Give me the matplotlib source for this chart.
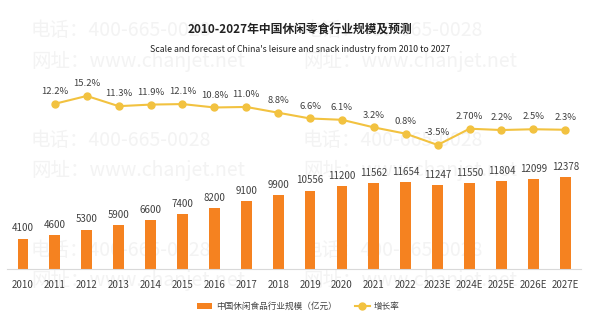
import matplotlib
matplotlib.use("Agg")
import matplotlib.pyplot as plt
import numpy as np

plt.rcParams['font.family'] = ['Noto Sans CJK SC', 'DejaVu Sans']

years = ['2010', '2011', '2012', '2013', '2014', '2015', '2016', '2017', '2018',
         '2019', '2020', '2021', '2022', '2023E', '2024E', '2025E', '2026E', '2027E']
scale = [4100, 4600, 5300, 5900, 6600, 7400, 8200, 9100, 9900,
         10556, 11200, 11562, 11654, 11247, 11550, 11804, 12099, 12378]
growth = [12.2, 15.2, 11.3, 11.9, 12.1, 10.8, 11.0, 8.8, 6.6,
          6.1, 3.2, 0.8, -3.5, 2.70, 2.2, 2.5, 2.3]
growth_labels = ['12.2%', '15.2%', '11.3%', '11.9%', '12.1%', '10.8%', '11.0%', '8.8%', '6.6%',
                 '6.1%', '3.2%', '0.8%', '-3.5%', '2.70%', '2.2%', '2.5%', '2.3%']

bar_color = '#F58220'
line_color = '#F2C240'
text_color = '#404040'

fig = plt.figure(figsize=(6, 3.21), dpi=100)

# faint watermark in the background
for y in [31, 140, 250]:
    for x0 in [31, 303]:
        fig.text(x0 / 600, 1 - y / 321, '电话：400-665-0028', fontsize=14, color='#F3F3F3',
                 ha='left', va='center', zorder=-5)
        fig.text(x0 / 600, 1 - (y + 30) / 321, '网址：www.chanjet.net', fontsize=14, color='#F3F3F3',
                 ha='left', va='center', zorder=-5)

ax = fig.add_axes([0.0117, 0.162, 0.957, 0.62])
ax.patch.set_visible(False)
x = np.arange(len(years))

bars = ax.bar(x, scale, width=0.34, color=bar_color, zorder=2, label='中国休闲食品行业规模（亿元）')
for xi, v in zip(x, scale):
    ax.text(xi, v + 700, str(v), ha='center', va='bottom', fontsize=7, color=text_color)

ax.set_xlim(-0.5, len(years) - 0.5)
ax.set_ylim(0, 26780)
ax.set_xticks(x)
ax.set_xticklabels(years, fontsize=7, color=text_color)
ax.tick_params(axis='x', length=0, pad=8)
ax.set_yticks([])
for s in ['top', 'left', 'right']:
    ax.spines[s].set_visible(False)
ax.spines['bottom'].set_color('#D9D9D9')

ax2 = ax.twinx()
ax2.patch.set_visible(False)
gx = x[1:]
line, = ax2.plot(gx, growth, color=line_color, lw=1.5, marker='o', ms=5, zorder=3, label='增长率')
for xi, v, lab in zip(gx, growth, growth_labels):
    ax2.text(xi, v + 3.0, lab, ha='center', va='bottom', fontsize=6.8, color=text_color)
ax2.set_ylim(-50.8, 25.1)
ax2.set_yticks([])
for s in ['top', 'left', 'right', 'bottom']:
    ax2.spines[s].set_visible(False)

fig.legend(handles=[bars, line], loc='center', bbox_to_anchor=(0.497, 0.045), ncol=2,
           frameon=False, fontsize=6.2, handlelength=1.75, handletextpad=0.4,
           columnspacing=2.1, labelcolor=text_color)

fig.text(0.5, 0.907, '2010-2027年中国休闲零食行业规模及预测', ha='center', va='center',
         fontsize=8.5, fontweight='bold', color='#222222')
fig.text(0.5, 0.845, "Scale and forecast of China's leisure and snack industry from 2010 to 2027",
         ha='center', va='center', fontsize=6.3, color='#222222')

fig.savefig('out.png', dpi=100, facecolor='white')
